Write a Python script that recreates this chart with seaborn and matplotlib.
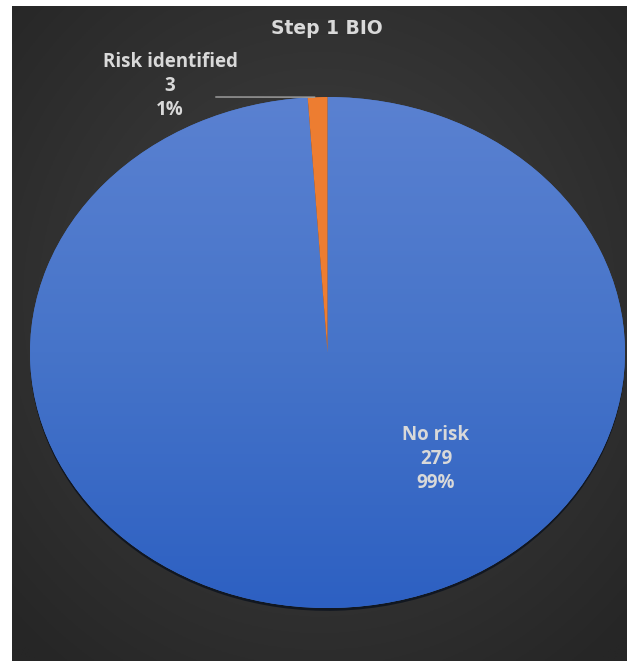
import numpy as np
import matplotlib
matplotlib.use("Agg")
import matplotlib.pyplot as plt
from matplotlib.colors import LinearSegmentedColormap
import seaborn as sns

# ---- data ----
categories = ["No risk", "Risk identified"]
counts = [279, 3]
percents = ["99%", "1%"]
title = "Step 1 BIO"

sns.set_theme(style="white")
plt.rcParams["font.family"] = ["Open Sans", "DejaVu Sans"]

W, H = 627, 661
fig = plt.figure(figsize=(W / 100, H / 100), dpi=100, facecolor="white")

# dark background panel with radial gradient
bg = fig.add_axes([12 / W, 0, (W - 12) / W, (H - 6) / H])
ny, nx = 300, 300
yy, xx = np.mgrid[0:1:ny * 1j, 0:1:nx * 1j]
d = np.sqrt(((xx - 0.5) / 0.75) ** 2 + ((yy - 0.45) / 0.75) ** 2)
d = np.clip(d / 0.95, 0, 1)
c0 = np.array([0x42, 0x42, 0x42]) / 255
c1 = np.array([0x26, 0x26, 0x26]) / 255
img = c0[None, None, :] * (1 - d[..., None]) + c1[None, None, :] * d[..., None]
bg.imshow(img, extent=(0, 1, 0, 1), aspect="auto", origin="upper")
bg.set_axis_off()

# pie axes (elliptical pie)
px0, px1, py0, py1 = 30, 625, 97, 608
ax = fig.add_axes([px0 / W, (H - py1) / H, (px1 - px0) / W, (py1 - py0) / H])
colors = ["#4472C4", "#ED7D31"]
wedges, _ = ax.pie(counts, colors=colors, startangle=90, counterclock=False,
                   wedgeprops=dict(linewidth=0),
                   shadow=dict(ox=0.0, oy=-0.008, shade=0.85, alpha=0.8))
ax.set_aspect("auto")
ax.set_xlim(-1, 1)
ax.set_ylim(-1, 1)
ax.set_axis_off()

# vertical gradient on blue wedge
cmap = LinearSegmentedColormap.from_list("bl", ["#2d60c2", "#4674c9", "#5a81d1"])
grad = np.linspace(0, 1, 256)[:, None]
im = ax.imshow(grad, extent=(-1, 1, -1, 1), origin="lower", cmap=cmap,
               aspect="auto", zorder=wedges[0].get_zorder() + 0.1)
im.set_clip_path(wedges[0])
wedges[1].set_zorder(wedges[0].get_zorder() + 0.2)

txt_col = "#d9d9d9"
fig.text(327 / W, 1 - 29 / H, title, ha="center", va="center", color=txt_col,
         fontsize=13.5, fontweight="bold", family=["DejaVu Sans"])

# label for small slice with leader line
w = wedges[1]
mid = np.deg2rad((w.theta1 + w.theta2) / 2)
ax.annotate("", xy=(np.cos(mid), np.sin(mid)),
            xytext=(-0.385, 1.0), textcoords="data",
            arrowprops=dict(arrowstyle="-", color="#a6a6a6", lw=1))
fig.text(170 / W, 1 - 86 / H,
         f"{categories[1]}\n{counts[1]}\n{percents[1]}",
         ha="center", va="center", color=txt_col, fontsize=13.5,
         fontweight="bold", linespacing=1.27)

fig.text(436 / W, 1 - 459 / H,
         f"{categories[0]}\n{counts[0]}\n{percents[0]}",
         ha="center", va="center", color=txt_col, fontsize=13.5,
         fontweight="bold", linespacing=1.3)

fig.savefig("out.png", dpi=100, facecolor="white")
